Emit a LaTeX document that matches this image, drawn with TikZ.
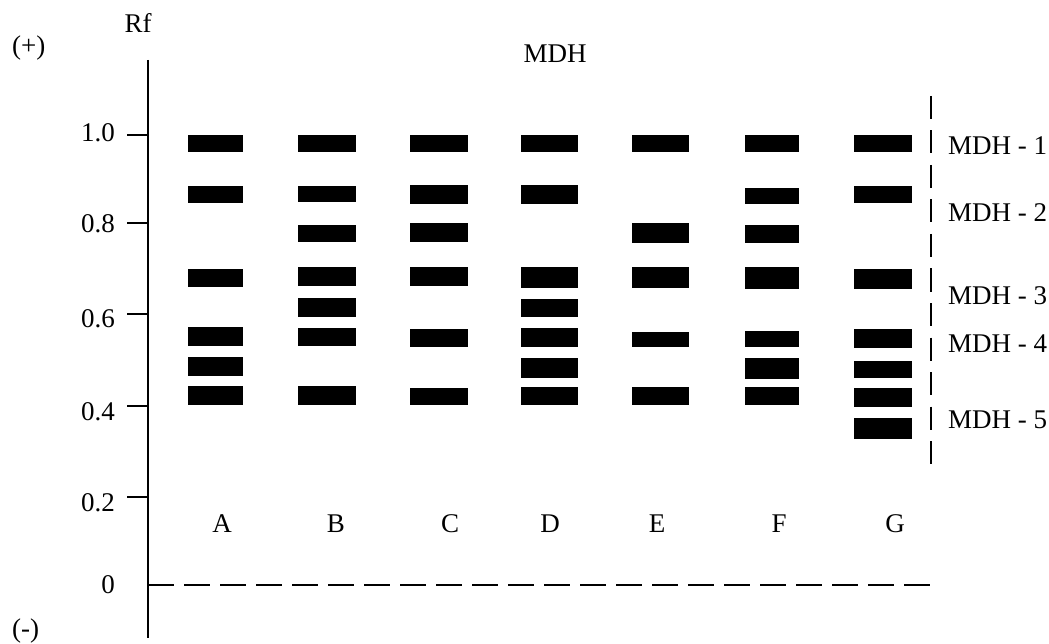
\documentclass[tikz,border=0pt]{standalone}
\usepackage{fontspec}
\setmainfont{Liberation Serif}
% one lane of bands: left edge, right edge, list of top/bottom pairs
\newcommand\gellane[3]{%
  \foreach \t/\b in {#3} {\fill[band] (#1,\t) rectangle (#2,\b);}}
\begin{document}
\begin{tikzpicture}[x=1pt,y=-1pt,
  lbl/.style={inner sep=0pt, font=\fontsize{27}{30}\selectfont},
  band/.style={fill=black},
  axisline/.style={line width=1.4pt},
  tickline/.style={line width=1.3pt},
  originline/.style={line width=2.2pt, dash pattern=on 26pt off 10pt},
  zoneline/.style={line width=2.2pt, dash pattern=on 23pt off 11.5pt}]
\useasboundingbox[fill=white] (0,0) rectangle (1049,644);

% vertical Rf axis
\coordinate (axtop) at (148,60);
\coordinate (axbot) at (148,638);
\draw[axisline] (axtop) -- (axbot);

% ticks and their values
\foreach \name/\ty/\base/\val in {t10/135/142/1.0, t08/223/233/0.8, t06/314/327/0.6,
                                   t04/406/420/0.4, t02/497/511/0.2} {
  \coordinate (\name a) at (127,\ty);
  \coordinate (\name b) at (148,\ty);
  \draw[tickline] (\name a) -- (\name b);
  \node[lbl, anchor=base east] (\name l) at (115,\base) {\val};
}
\node[lbl, anchor=base east] (t00l) at (115,593) {0};

% axis captions
\node[lbl, anchor=base] (rf) at (138,33) {Rf};
\node[lbl, anchor=base west] (plus) at (12,55) {(+)};
\node[lbl, anchor=base west] (minus) at (12,637) {(-)};
\node[lbl, anchor=base] (title) at (555,63) {MDH};

% origin line
\coordinate (orgA) at (148,585);
\coordinate (orgB) at (931,585);
\draw[originline] (orgA) -- (orgB);

% bands of each sample
\gellane{188}{243}{135/152,186/203,269/287,327/346,357/376,386/405}
\gellane{298}{356}{135/152,186/202,225/242,267/286,298/317,328/346,386/405}
\gellane{410}{468}{135/152,185/204,223/242,267/286,329/347,388/405}
\gellane{521}{578}{135/152,185/204,267/288,299/317,328/347,358/378,387/405}
\gellane{632}{689}{135/152,223/243,267/288,332/347,387/405}
\gellane{745}{799}{135/152,188/204,225/243,267/289,331/347,358/379,387/405}
\gellane{854}{912}{135/152,186/203,269/289,329/348,361/378,388/407,418/439}

% sample names
\foreach \s/\sx in {A/222, B/336, C/450, D/550, E/657, F/779, G/895} {
  \node[lbl, anchor=base] (lane\s) at (\sx,532) {\s};
}

% zone divider and isozyme labels
\coordinate (zoneTop) at (931,96);
\coordinate (zoneBot) at (931,465);
\draw[zoneline] (zoneTop) -- (zoneBot);
\foreach \k/\base in {1/155, 2/222, 3/304, 4/352, 5/428} {
  \node[lbl, anchor=base west] (mdh\k) at (948,\base) {MDH - \k};
}
\end{tikzpicture}
\end{document}
